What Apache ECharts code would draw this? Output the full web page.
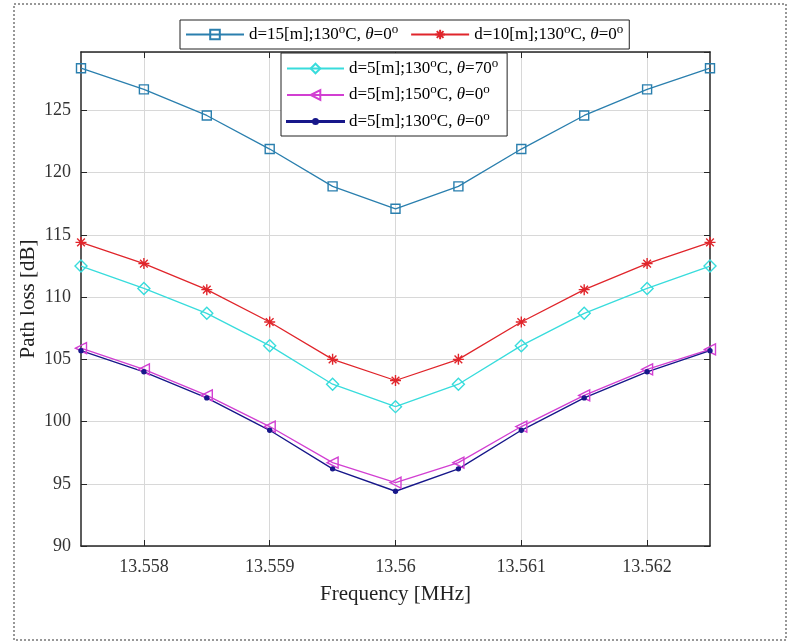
<!DOCTYPE html>
<html>
<head>
<meta charset="utf-8">
<script src="https://cdn.jsdelivr.net/npm/echarts@6/dist/echarts.min.js"></script>
<style>html,body{margin:0;padding:0;background:#fff}#c{width:792px;height:643px}</style>
</head>
<body>
<div id="c"></div>
<script>
const FREQ = [13.5575, 13.558, 13.5585, 13.559, 13.5595, 13.56, 13.5605, 13.561, 13.5615, 13.562, 13.5625];
const PL_D15_130_T0 = [128.4, 126.7, 124.6, 121.9, 118.9, 117.1, 118.9, 121.9, 124.6, 126.7, 128.4];
const PL_D10_130_T0 = [114.4, 112.7, 110.6, 108.0, 105.0, 103.3, 105.0, 108.0, 110.6, 112.7, 114.4];
const PL_D5_130_T70 = [112.5, 110.7, 108.7, 106.1, 103.0, 101.2, 103.0, 106.1, 108.7, 110.7, 112.5];
const PL_D5_150_T0 = [105.9, 104.2, 102.1, 99.6, 96.7, 95.1, 96.7, 99.6, 102.1, 104.2, 105.8];
const PL_D5_130_T0 = [105.7, 104.0, 101.9, 99.3, 96.2, 94.4, 96.2, 99.3, 101.9, 104.0, 105.7];
const X_TICKS = [13.558, 13.559, 13.56, 13.561, 13.562];
const NAMES = ['d=15[m];130°C, θ=0°', 'd=10[m];130°C, θ=0°', 'd=5[m];130°C, θ=70°', 'd=5[m];150°C, θ=0°', 'd=5[m];130°C, θ=0°'];
const X_NAME = 'Frequency [MHz]';
const Y_NAME = 'Path loss [dB]';

const FONT = 'Liberation Serif';
const pairs = a => FREQ.map((f, i) => [f, a[i]]);
const STAR = 'path://M0,-1L0,1M-1,0L1,0M-0.7,-0.7L0.7,0.7M-0.7,0.7L0.7,-0.7';
const LTRI = 'path://M0,5L10,0L10,10Z';
const DOT_ICON = 'path://M0,5.4L57,5.4L57,6.6L0,6.6ZM26,6A2.5,2.5,0,1,0,31,6A2.5,2.5,0,1,0,26,6Z';

function mk(name, data, color, symbol, size, filled, lw) {
  return {
    name, type: 'line', data: pairs(data), symbol, symbolSize: size,
    lineStyle: {color, width: lw || 1.3},
    itemStyle: {color: filled ? color : 'rgba(255,255,255,0)', borderColor: color, borderWidth: 1.4},
    emphasis: {disabled: true}, animation: false, z: 3
  };
}
const legendFmt = n => n.replace(/θ/g, '{it|θ}').replace(/°/g, '{sup|o}');
const legRich = {
  it: {fontStyle: 'italic', fontFamily: FONT, fontSize: 17, color: '#000'},
  sup: {fontFamily: FONT, fontSize: 13, color: '#000', lineHeight: 12, padding: [0, 0, 10, 0]}
};

const chart = echarts.init(document.getElementById('c'), null, {renderer: 'canvas'});
chart.setOption({
  backgroundColor: '#fff',
  animation: false,
  grid: {left: 81, right: 82, top: 52, bottom: 97},
  graphic: [{
    type: 'rect', shape: {x: 14, y: 4, width: 772, height: 636}, z: -1,
    style: {fill: 'none', stroke: '#777', lineWidth: 1.5, lineDash: [2, 2]}
  }],
  legend: [{
    data: [NAMES[0], NAMES[1]], orient: 'horizontal', left: 180, top: 20,
    itemWidth: 58, itemHeight: 12, itemGap: 12, padding: [3, 6, 3, 5],
    backgroundColor: '#fff', borderColor: '#222', borderWidth: 1,
    selectedMode: false, formatter: legendFmt,
    textStyle: {fontFamily: FONT, fontSize: 17, color: '#000', rich: legRich}
  }, {
    data: [NAMES[2], NAMES[3], {name: NAMES[4], icon: DOT_ICON}], orient: 'vertical', left: 281, top: 53,
    itemWidth: 57, itemHeight: 12, itemGap: 3.5, padding: [4, 9, 3, 5],
    backgroundColor: '#fff', borderColor: '#222', borderWidth: 1,
    selectedMode: false, formatter: legendFmt,
    textStyle: {fontFamily: FONT, fontSize: 17, color: '#000', rich: legRich}
  }],
  xAxis: [{
    type: 'value', min: 13.5575, max: 13.5625, interval: 0.0005, position: 'bottom',
    name: X_NAME, nameLocation: 'middle', nameGap: 38, nameMoveOverlap: false,
    nameTextStyle: {fontFamily: FONT, fontSize: 21, color: '#222'},
    axisLine: {lineStyle: {color: '#262626', width: 1.5}},
    axisTick: {inside: true, length: 6, customValues: X_TICKS, lineStyle: {color: '#262626'}},
    axisLabel: {customValues: X_TICKS, margin: 12, fontFamily: FONT, fontSize: 18, color: '#333',
      formatter: v => String(+(+v).toFixed(3))},
    splitLine: {show: true, lineStyle: {color: '#d8d8d8', width: 1}}
  }, {
    type: 'value', min: 13.5575, max: 13.5625, interval: 0.0005, position: 'top',
    axisLine: {lineStyle: {color: '#262626', width: 1.5}},
    axisTick: {inside: true, length: 6, customValues: X_TICKS, lineStyle: {color: '#262626'}},
    axisLabel: {show: false}, splitLine: {show: false}
  }],
  yAxis: [{
    type: 'value', min: 90, max: 129.7, interval: 5, position: 'left',
    name: Y_NAME, nameLocation: 'middle', nameGap: 42, nameMoveOverlap: false,
    nameTextStyle: {fontFamily: FONT, fontSize: 21, color: '#222'},
    axisLine: {show: true, lineStyle: {color: '#262626', width: 1.5}},
    axisTick: {show: true, inside: true, length: 6, lineStyle: {color: '#262626'}},
    axisLabel: {showMaxLabel: false, margin: 10, fontFamily: FONT, fontSize: 18, color: '#333'},
    splitLine: {show: true, lineStyle: {color: '#d8d8d8', width: 1}}
  }, {
    type: 'value', min: 90, max: 129.7, interval: 5, position: 'right',
    axisLine: {show: true, lineStyle: {color: '#262626', width: 1.5}},
    axisTick: {show: true, inside: true, length: 6, lineStyle: {color: '#262626'}},
    axisLabel: {show: false}, splitLine: {show: false}
  }],
  series: [
    mk(NAMES[0], PL_D15_130_T0, '#2a7fae', 'rect', 9, false),
    mk(NAMES[1], PL_D10_130_T0, '#e0252b', STAR, 11, false),
    mk(NAMES[2], PL_D5_130_T70, '#38dcdc', 'diamond', 12, false),
    mk(NAMES[3], PL_D5_150_T0, '#d23fd2', LTRI, 11, false),
    mk(NAMES[4], PL_D5_130_T0, '#17178a', 'circle', 4, true, 1.4)
  ]
});
</script>
</body>
</html>
